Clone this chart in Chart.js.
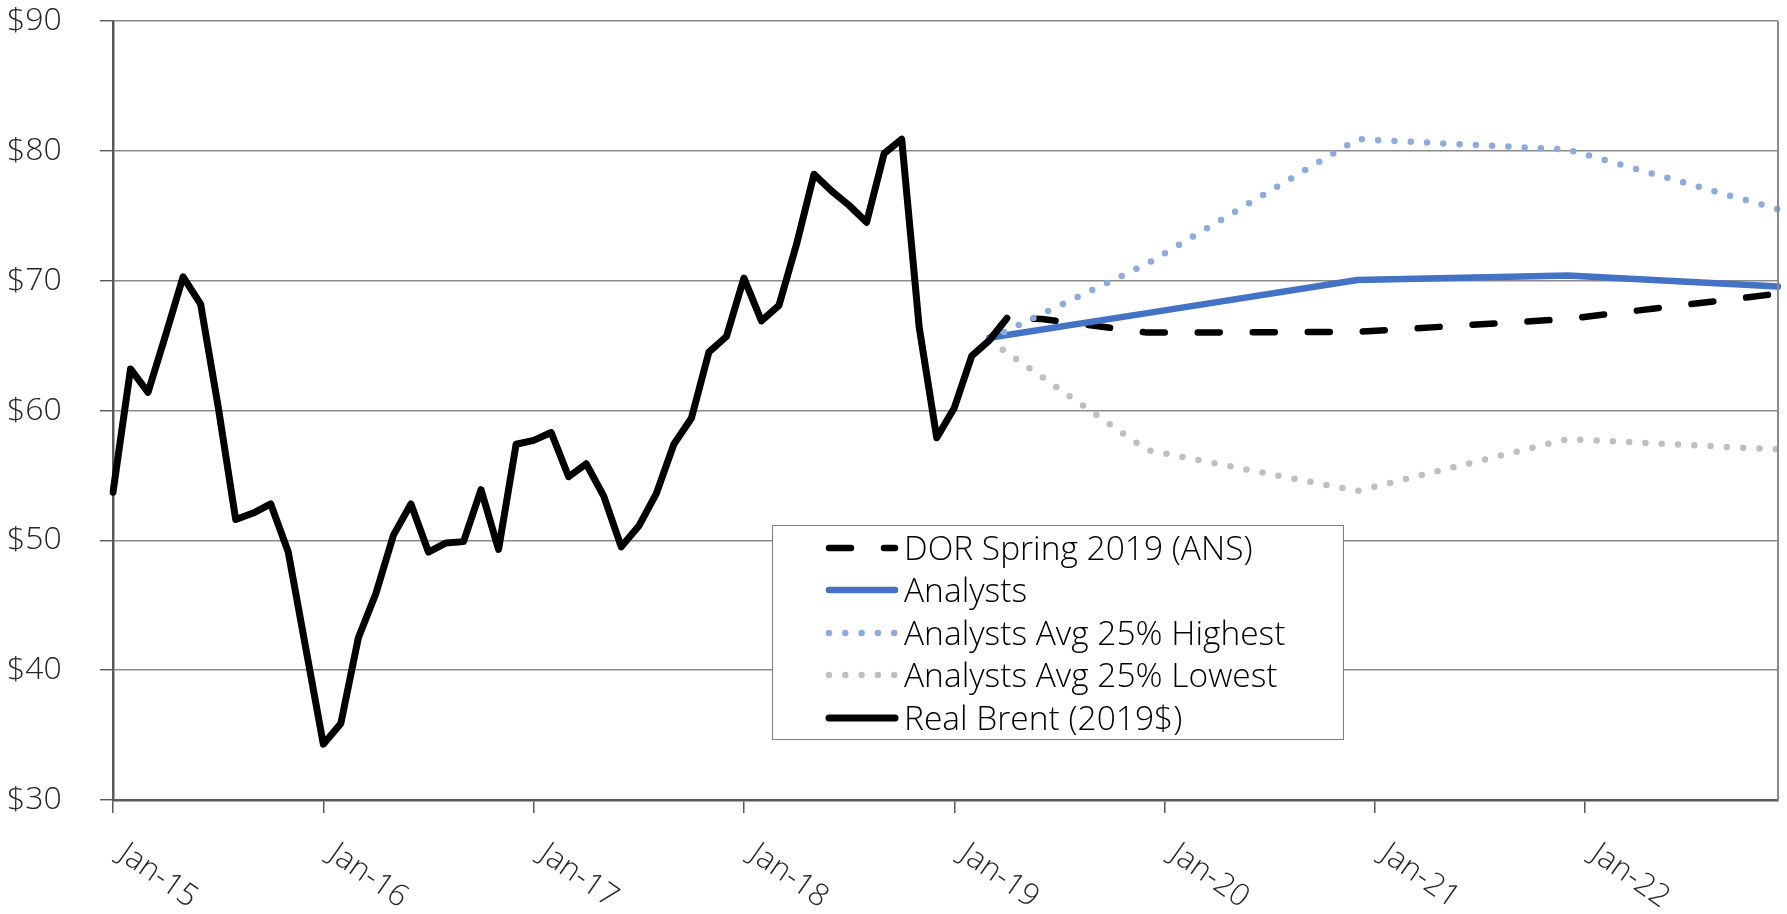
<!DOCTYPE html>
<html>
<head>
<meta charset="utf-8">
<script src="https://cdn.jsdelivr.net/npm/chart.js@4.4.1/dist/chart.umd.min.js"></script>
<style>
html,body{margin:0;padding:0;background:#fff;}
#wrap{position:relative;width:1787px;height:914px;}
#legend{position:absolute;left:772px;top:525px;width:570px;height:213px;border:1.5px solid #7f7f7f;background:#fff;font-family:'Open Sans',sans-serif;font-weight:300;font-size:33.5px;color:#000;}
.item{position:absolute;left:0;width:100%;height:42px;}
.item svg{position:absolute;left:50px;top:0;}
.item span{position:absolute;left:131px;top:-1px;line-height:42px;white-space:nowrap;}
</style>
</head>
<body>
<div id="wrap">
<canvas id="c"></canvas>
<div id="legend"></div>
</div>
<script>
// ---- categories (monthly) ----
const months = [
 'Jan-15','Feb-15','Mar-15','Apr-15','May-15','Jun-15','Jul-15','Aug-15','Sep-15','Oct-15','Nov-15','Dec-15',
 'Jan-16','Feb-16','Mar-16','Apr-16','May-16','Jun-16','Jul-16','Aug-16','Sep-16','Oct-16','Nov-16','Dec-16',
 'Jan-17','Feb-17','Mar-17','Apr-17','May-17','Jun-17','Jul-17','Aug-17','Sep-17','Oct-17','Nov-17','Dec-17',
 'Jan-18','Feb-18','Mar-18','Apr-18','May-18','Jun-18','Jul-18','Aug-18','Sep-18','Oct-18','Nov-18','Dec-18',
 'Jan-19','Feb-19','Mar-19','Apr-19','May-19','Jun-19','Jul-19','Aug-19','Sep-19','Oct-19','Nov-19','Dec-19',
 'Jan-20','Feb-20','Mar-20','Apr-20','May-20','Jun-20','Jul-20','Aug-20','Sep-20','Oct-20','Nov-20','Dec-20',
 'Jan-21','Feb-21','Mar-21','Apr-21','May-21','Jun-21','Jul-21','Aug-21','Sep-21','Oct-21','Nov-21','Dec-21',
 'Jan-22','Feb-22','Mar-22','Apr-22','May-22','Jun-22','Jul-22','Aug-22','Sep-22','Oct-22','Nov-22','Dec-22'
];
const xTickLabels = ['Jan-15','Jan-16','Jan-17','Jan-18','Jan-19','Jan-20','Jan-21','Jan-22'];
const yMin = 30, yMax = 90, yStep = 10;

// ---- series ----
// Real Brent (2019$), monthly Jan-15 .. Apr-19
const realBrent = [
 53.7,63.2,61.4,65.8,70.3,68.2,60.3,51.6,52.1,52.8,49.1,41.7,
 34.3,35.9,42.5,45.9,50.4,52.8,49.1,49.8,49.9,53.9,49.3,57.4,
 57.7,58.3,54.9,55.9,53.4,49.5,51.1,53.6,57.4,59.4,64.5,65.7,
 70.2,66.9,68.1,72.8,78.2,76.9,75.8,74.5,79.8,80.9,66.4,57.9,
 60.2,64.2,65.4,67.1
];
const dorMonths = ['Mar-19','Apr-19','Jun-19','Dec-19','Dec-20','Dec-21','Dec-22'];
const dorValues = [65.4,67.1,67.05,66.0,66.05,67.05,69.0];
const forecastMonths = ['Mar-19','Dec-19','Dec-20','Dec-21','Dec-22'];
const analystsValues = [65.6,67.5,70.05,70.4,69.55];
const highValues = [65.5,71.3,80.9,80.1,75.5];
const lowValues = [65.4,56.95,53.8,57.8,57.0];

const pts = (ms, vs) => ms.map((m, i) => ({x: m, y: vs[i]}));

const FONT = "'Open Sans', sans-serif";
const TXT = '#262626';

const datasets = [
  {label:'DOR Spring 2019 (ANS)', data: pts(dorMonths, dorValues), borderColor:'#000000',
   borderWidth:6.5, borderDash:[22,33], borderCapStyle:'round', borderJoinStyle:'round', order:4,
   legendDash:'22 33', legendColor:'#000000', legendWidth:6.5},
  {label:'Analysts', data: pts(forecastMonths, analystsValues), borderColor:'#4472C4',
   borderWidth:6.5, borderCapStyle:'round', borderJoinStyle:'round', order:3,
   legendDash:'', legendColor:'#4472C4', legendWidth:6.5},
  {label:'Analysts Avg 25% Highest', data: pts(forecastMonths, highValues), borderColor:'#8FAADC',
   borderWidth:6.5, borderDash:[0,16.3], borderCapStyle:'round', borderJoinStyle:'round', order:2,
   legendDash:'0 16.3', legendColor:'#8FAADC', legendWidth:6.5},
  {label:'Analysts Avg 25% Lowest', data: pts(forecastMonths, lowValues), borderColor:'#BFBFBF',
   borderWidth:6.5, borderDash:[0,16.3], borderCapStyle:'round', borderJoinStyle:'round', order:1,
   legendDash:'0 16.3', legendColor:'#BFBFBF', legendWidth:6.5},
  {label:'Real Brent (2019$)', data: realBrent, borderColor:'#000000',
   borderWidth:7, borderCapStyle:'round', borderJoinStyle:'round', order:0,
   legendDash:'', legendColor:'#000000', legendWidth:7}
];

const frame = {
  id:'frame',
  afterDatasetsDraw(chart){
    const {ctx, chartArea:a} = chart;
    ctx.save();
    ctx.strokeStyle = '#8a8a8a';
    ctx.lineWidth = 2;
    ctx.beginPath();
    ctx.moveTo(a.right, a.top);
    ctx.lineTo(a.right, a.bottom);
    ctx.stroke();
    ctx.restore();
  },
  afterDraw(chart){
    const {ctx} = chart;
    const x = chart.scales.x;
    ctx.save();
    ctx.font = '300 31px ' + FONT;
    ctx.fillStyle = TXT;
    ctx.textAlign = 'left';
    ctx.textBaseline = 'alphabetic';
    xTickLabels.forEach(lab => {
      const i = chart.data.labels.indexOf(lab);
      const px = x.getPixelForValue(i);
      ctx.save();
      ctx.translate(px + 4, x.top + 58);
      ctx.rotate(35 * Math.PI / 180);
      ctx.fillText(lab, 0, 0);
      ctx.restore();
    });
    ctx.restore();
  }
};

const chart = new Chart(document.getElementById('c'), {
  type:'line',
  data:{labels: months, datasets},
  options:{
    responsive:true,
    maintainAspectRatio:false,
    animation:false,
    layout:{padding:{left:7, right:9, top:21, bottom:0}},
    elements:{point:{radius:0, hoverRadius:0}, line:{tension:0, fill:false}},
    plugins:{legend:{display:false}, tooltip:{enabled:false}},
    scales:{
      x:{
        type:'category',
        offset:false,
        grid:{display:true, drawOnChartArea:false, drawTicks:true, tickLength:13, lineWidth:1.5,
              tickColor:(c)=> (c.tick && xTickLabels.includes(months[c.index])) ? '#595959' : 'rgba(0,0,0,0)'},
        border:{display:true, color:'#595959', width:2.5},
        ticks:{display:false, autoSkip:false},
        afterFit:(s)=>{ s.height = 114; }
      },
      y:{
        min:yMin, max:yMax,
        grid:{color:'#8a8a8a', lineWidth:1.4, drawTicks:true, tickLength:13, tickColor:'#595959'},
        border:{display:true, color:'#595959', width:2.5},
        ticks:{stepSize:yStep, padding:0, crossAlign:'far', color:TXT,
               font:{family:FONT, size:32, weight:'300'},
               callback:(v)=>'$' + v},
        afterFit:(s)=>{ s.width = 106; }
      }
    }
  },
  plugins:[frame]
});

// ---- HTML legend from datasets ----
const leg = document.getElementById('legend');
datasets.forEach((d, i) => {
  const row = document.createElement('div');
  row.className = 'item';
  row.style.top = (0.7 + i * 42.5) + 'px';
  const svgNS = 'http://www.w3.org/2000/svg';
  const svg = document.createElementNS(svgNS, 'svg');
  svg.setAttribute('width', '80'); svg.setAttribute('height', '42');
  const ln = document.createElementNS(svgNS, 'line');
  ln.setAttribute('x1', '6'); ln.setAttribute('x2', '72');
  ln.setAttribute('y1', '21'); ln.setAttribute('y2', '21');
  ln.setAttribute('stroke', d.legendColor);
  ln.setAttribute('stroke-width', d.legendWidth);
  ln.setAttribute('stroke-linecap', 'round');
  if (d.legendDash) ln.setAttribute('stroke-dasharray', d.legendDash);
  svg.appendChild(ln);
  const sp = document.createElement('span');
  sp.textContent = d.label;
  row.appendChild(svg); row.appendChild(sp);
  leg.appendChild(row);
});
</script>
</body>
</html>
